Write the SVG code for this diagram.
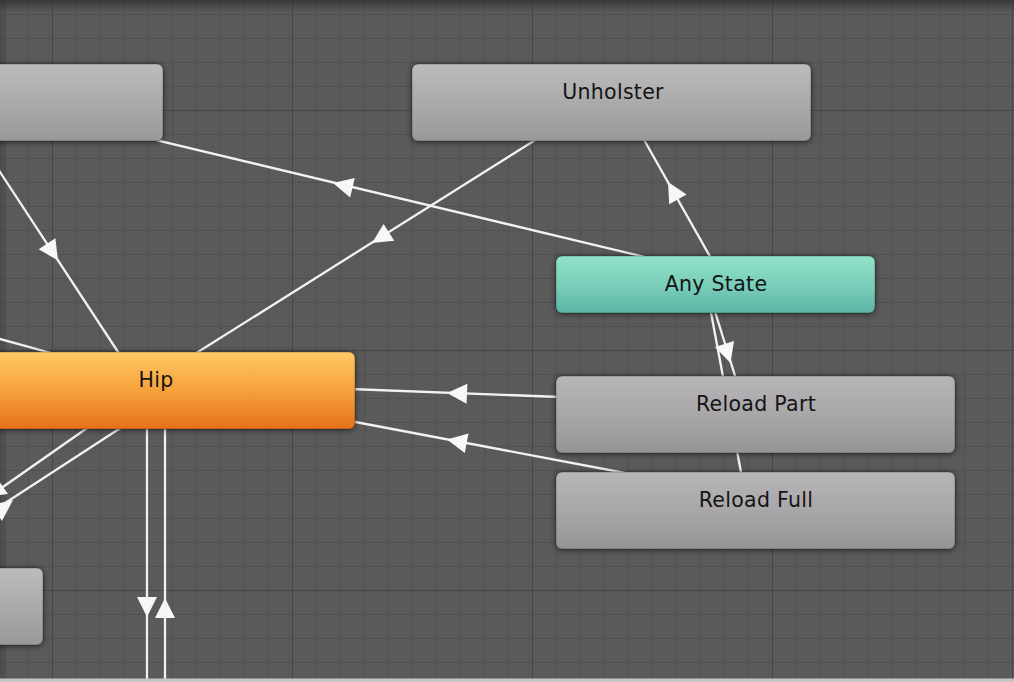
<svg xmlns="http://www.w3.org/2000/svg" width="1014" height="682" viewBox="0 0 1014 682">
  <style>
    .bg { fill: #5a5a5a; }
    .conn line { stroke: #f2f2f2; stroke-width: 2.3; stroke-linecap: butt; }
    .arrow { fill: #f7f7f7; }
    .node rect { stroke: rgba(0,0,0,0.28); stroke-width: 1; filter: url(#shadow); }
    .label { font-family: "DejaVu Sans", "Liberation Sans", sans-serif; font-size: 20.5px; letter-spacing: 0.3px; fill: #141414; text-anchor: middle; }
    .gray rect { fill: url(#gGray); }
    .grayb rect { fill: url(#gGrayB); }
    .teal rect { fill: url(#gTeal); }
    .orange rect { fill: url(#gOrange); }
  </style>
  <defs>
    <pattern id="minor" patternUnits="userSpaceOnUse" x="4" y="14" width="24" height="24">
      <rect x="0" y="0" width="24" height="1" fill="#505050"/>
      <rect x="0" y="0" width="1" height="24" fill="#505050"/>
    </pattern>
    <pattern id="major" patternUnits="userSpaceOnUse" x="52" y="110" width="240" height="240">
      <rect x="0" y="0" width="240" height="1" fill="#464646"/>
      <rect x="0" y="0" width="1" height="240" fill="#464646"/>
    </pattern>
    <linearGradient id="topShade" x1="0" y1="0" x2="0" y2="1">
      <stop offset="0" stop-color="#2e2e2e" stop-opacity="0.75"/>
      <stop offset="1" stop-color="#2e2e2e" stop-opacity="0"/>
    </linearGradient>
    <linearGradient id="leftShade" x1="0" y1="0" x2="1" y2="0">
      <stop offset="0" stop-color="#2e2e2e" stop-opacity="0.35"/>
      <stop offset="1" stop-color="#2e2e2e" stop-opacity="0"/>
    </linearGradient>
    <linearGradient id="gGray" x1="0" y1="0" x2="0" y2="1">
      <stop offset="0" stop-color="#bcbcbc"/>
      <stop offset="0.55" stop-color="#a9a9a9"/>
      <stop offset="1" stop-color="#989898"/>
    </linearGradient>
    <linearGradient id="gGrayB" x1="0" y1="0" x2="0" y2="1">
      <stop offset="0" stop-color="#b7b5b8"/>
      <stop offset="0.55" stop-color="#a7a5a8"/>
      <stop offset="1" stop-color="#949396"/>
    </linearGradient>
    <linearGradient id="gTeal" x1="0" y1="0" x2="0" y2="1">
      <stop offset="0" stop-color="#90e1c9"/>
      <stop offset="0.55" stop-color="#78cdb8"/>
      <stop offset="1" stop-color="#5cb3a4"/>
    </linearGradient>
    <linearGradient id="gOrange" x1="0" y1="0" x2="0" y2="1">
      <stop offset="0" stop-color="#ffc966"/>
      <stop offset="0.5" stop-color="#f6a13c"/>
      <stop offset="1" stop-color="#e6701a"/>
    </linearGradient>
    <filter id="shadow" x="-10%" y="-30%" width="120%" height="160%">
      <feDropShadow dx="0" dy="1" stdDeviation="3" flood-color="#000000" flood-opacity="0.55"/>
    </filter>
  </defs>

  <!-- background and grid -->
  <rect class="bg" x="0" y="0" width="1014" height="682"/>
  <rect x="0" y="0" width="1014" height="682" fill="url(#minor)"/>
  <rect x="0" y="0" width="1014" height="682" fill="url(#major)"/>
  <rect x="0" y="0" width="1014" height="12" fill="url(#topShade)"/>
  <rect x="0" y="0" width="8" height="682" fill="url(#leftShade)"/>

  <!-- connectors -->
  <g id="connectors" class="conn">
    <!-- Any State -> top-left node -->
    <line x1="150" y1="138.6" x2="645" y2="257"/>
    <polygon class="arrow" points="0,0 -20,-10 -20,10" transform="translate(333,183) rotate(193.45)"/>
    <!-- Unholster -> Hip -->
    <line x1="540" y1="137" x2="190" y2="357"/>
    <polygon class="arrow" points="0,0 -20,-10 -20,10" transform="translate(372,243) rotate(147.8)"/>
    <!-- top-left (offscreen) -> Hip -->
    <line x1="-5" y1="164.4" x2="122" y2="358"/>
    <polygon class="arrow" points="0,0 -20,-10 -20,10" transform="translate(58,260.5) rotate(56.75)"/>
    <!-- offscreen -> under Hip -->
    <line x1="-5" y1="337.6" x2="80" y2="361"/>
    <!-- Any State -> Unholster -->
    <line x1="712" y1="260" x2="643" y2="138"/>
    <polygon class="arrow" points="0,0 -20,-10 -20,10" transform="translate(668,182) rotate(240.3)"/>
    <!-- Hip -> bottom-left (offscreen) -->
    <line x1="90" y1="426" x2="-10" y2="496"/>
    <polygon class="arrow" points="8,494 -3.5,477.6 -13.3,496.8"/>
    <line x1="122" y1="427" x2="-10" y2="513"/>
    <polygon class="arrow" points="13,500 2,521 -9,505"/>
    <!-- Reload Part -> Hip -->
    <line x1="350" y1="389" x2="560" y2="397"/>
    <polygon class="arrow" points="0,0 -20,-10 -20,10" transform="translate(447,393) rotate(182.3)"/>
    <!-- Reload Full -> Hip -->
    <line x1="350" y1="421" x2="625" y2="473"/>
    <polygon class="arrow" points="0,0 -20,-10 -20,10" transform="translate(447,439.5) rotate(190.7)"/>
    <!-- Any State -> Reload Full (behind Reload Part) -->
    <line x1="710.5" y1="310" x2="741.5" y2="475"/>
    <!-- Any State -> Reload Part -->
    <line x1="714.5" y1="310" x2="736" y2="379"/>
    <polygon class="arrow" points="0,0 -20,-10 -20,10" transform="translate(730.5,363) rotate(72.5)"/>
    <!-- Hip <-> bottom (offscreen) -->
    <line x1="147" y1="428" x2="147" y2="682"/>
    <polygon class="arrow" points="0,0 -20,-10 -20,10" transform="translate(147,617) rotate(90)"/>
    <line x1="165" y1="428" x2="165" y2="682"/>
    <polygon class="arrow" points="0,0 -20,-10 -20,10" transform="translate(165,598) rotate(-90)"/>
  </g>

  <!-- nodes -->
  <g id="node-topleft" class="node gray">
    <rect x="-12" y="64" width="175" height="77" rx="6"/>
  </g>
  <g id="node-unholster" class="node gray">
    <rect x="412" y="64" width="399" height="77" rx="6"/>
    <text class="label" x="613" y="99">Unholster</text>
  </g>
  <g id="node-anystate" class="node teal">
    <rect x="556" y="256" width="319" height="57" rx="6"/>
    <text class="label" x="716" y="291">Any State</text>
  </g>
  <g id="node-hip" class="node orange">
    <rect x="-12" y="352" width="367" height="77" rx="6"/>
    <text class="label" x="156" y="387">Hip</text>
  </g>
  <g id="node-reloadpart" class="node grayb">
    <rect x="556" y="376" width="399" height="77" rx="6"/>
    <text class="label" x="756" y="411">Reload Part</text>
  </g>
  <g id="node-reloadfull" class="node grayb">
    <rect x="556" y="472" width="399" height="77" rx="6"/>
    <text class="label" x="756" y="507">Reload Full</text>
  </g>
  <g id="node-bottomleft" class="node gray">
    <rect x="-12" y="568" width="55" height="77" rx="6"/>
  </g>

  <!-- bottom window edge -->
  <rect x="0" y="678.5" width="1014" height="3.5" fill="#c6c6c6"/>
</svg>
